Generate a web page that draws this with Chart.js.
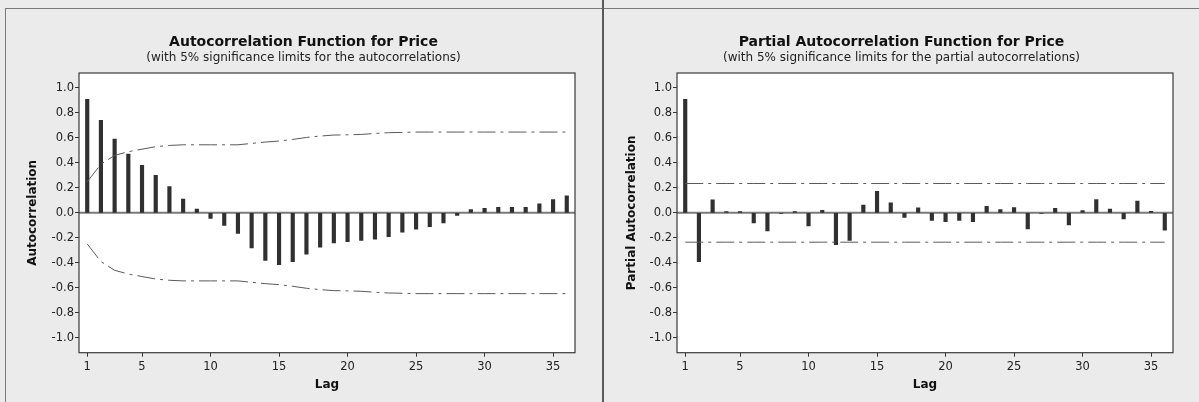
<!DOCTYPE html>
<html><head><meta charset="utf-8">
<script src="https://cdn.jsdelivr.net/npm/chart.js@4.4.1/dist/chart.umd.min.js"></script>
<style>
html,body{margin:0;padding:0;background:#ebebeb;}
body{width:1199px;height:402px;position:relative;overflow:hidden;font-family:'DejaVu Sans',Verdana,sans-serif;}
#c1{position:absolute;left:5px;top:0;}
#c2{position:absolute;left:604px;top:0;}
.bt{position:absolute;left:5px;top:8px;width:1194px;height:1px;background:#7a7a7a;}
.bl{position:absolute;left:5px;top:8px;width:1px;height:394px;background:#7a7a7a;}
.sep{position:absolute;left:602px;top:0;width:2px;height:402px;background:#5a5a5a;}
.ttl{position:absolute;text-align:center;font-weight:bold;font-size:14px;line-height:17px;color:#111;top:33px;white-space:nowrap;}
.sub{position:absolute;text-align:center;font-size:12px;line-height:14px;color:#222;top:49.5px;white-space:nowrap;}
</style></head>
<body>
<div class="bt"></div><div class="bl"></div><div class="sep"></div>
<canvas id="c1" width="597" height="402"></canvas>
<canvas id="c2" width="595" height="402"></canvas>
<div class="ttl" style="left:5px;width:597px;">Autocorrelation Function for Price</div>
<div class="sub" style="left:5px;width:597px;">(with 5% significance limits for the autocorrelations)</div>
<div class="ttl" style="left:604px;width:595px;">Partial Autocorrelation Function for Price</div>
<div class="sub" style="left:604px;width:595px;">(with 5% significance limits for the partial autocorrelations)</div>
<script>
const lags = [1,2,3,4,5,6,7,8,9,10,11,12,13,14,15,16,17,18,19,20,21,22,23,24,25,26,27,28,29,30,31,32,33,34,35,36];
const acfValues = [0.91,0.74,0.59,0.47,0.38,0.30,0.21,0.11,0.03,-0.045,-0.10,-0.165,-0.28,-0.38,-0.415,-0.39,-0.33,-0.275,-0.24,-0.23,-0.22,-0.21,-0.19,-0.155,-0.13,-0.11,-0.08,-0.02,0.027,0.037,0.045,0.045,0.045,0.072,0.107,0.136];
const acfUpper = [0.249,0.39,0.46,0.49,0.51,0.53,0.54,0.545,0.545,0.545,0.545,0.545,0.556,0.567,0.575,0.588,0.604,0.615,0.623,0.625,0.628,0.636,0.642,0.644,0.647,0.647,0.647,0.647,0.647,0.647,0.647,0.647,0.647,0.647,0.647,0.647];
const acfLower = [-0.249,-0.39,-0.46,-0.49,-0.51,-0.53,-0.54,-0.545,-0.545,-0.545,-0.545,-0.545,-0.556,-0.567,-0.575,-0.588,-0.604,-0.615,-0.623,-0.625,-0.628,-0.636,-0.642,-0.644,-0.647,-0.647,-0.647,-0.647,-0.647,-0.647,-0.647,-0.647,-0.647,-0.647,-0.647,-0.647];
const pacfValues = [0.91,-0.39,0.105,0.01,0.01,-0.08,-0.145,-0.003,0.01,-0.105,0.02,-0.255,-0.22,0.062,0.172,0.08,-0.037,0.04,-0.061,-0.07,-0.061,-0.07,0.053,0.027,0.043,-0.128,-0.004,0.037,-0.096,0.019,0.107,0.03,-0.048,0.094,0.013,-0.139];
const pacfUpper = [0.235,0.235,0.235,0.235,0.235,0.235,0.235,0.235,0.235,0.235,0.235,0.235,0.235,0.235,0.235,0.235,0.235,0.235,0.235,0.235,0.235,0.235,0.235,0.235,0.235,0.235,0.235,0.235,0.235,0.235,0.235,0.235,0.235,0.235,0.235,0.235];
const pacfLower = [-0.235,-0.235,-0.235,-0.235,-0.235,-0.235,-0.235,-0.235,-0.235,-0.235,-0.235,-0.235,-0.235,-0.235,-0.235,-0.235,-0.235,-0.235,-0.235,-0.235,-0.235,-0.235,-0.235,-0.235,-0.235,-0.235,-0.235,-0.235,-0.235,-0.235,-0.235,-0.235,-0.235,-0.235,-0.235,-0.235];
const xTickValues = [1,5,10,15,20,25,30,35];
const yTickValues = [-1.0,-0.8,-0.6,-0.4,-0.2,0.0,0.2,0.4,0.6,0.8,1.0];

const FONT = "'DejaVu Sans', Verdana, sans-serif";

const areaPlugin = {
  id: 'area',
  beforeDatasetsDraw(chart) {
    const {ctx, chartArea: a} = chart;
    ctx.save();
    ctx.fillStyle = '#ffffff';
    ctx.fillRect(a.left, a.top, a.right - a.left, a.bottom - a.top);
    const y0 = chart.scales.y.getPixelForValue(0);
    ctx.strokeStyle = '#7a7a7a';
    ctx.lineWidth = 2;
    ctx.beginPath();
    ctx.moveTo(a.left, y0);
    ctx.lineTo(a.right, y0);
    ctx.stroke();
    ctx.restore();
  },
  afterDraw(chart) {
    const {ctx, chartArea: a} = chart;
    ctx.save();
    ctx.strokeStyle = '#3a3a3a';
    ctx.lineWidth = 1.2;
    ctx.strokeRect(a.left, a.top, a.right - a.left, a.bottom - a.top);
    ctx.restore();
  }
};

function pts(xs, ys) { return xs.map((x, i) => ({x: x, y: ys[i]})); }

function makeChart(id, yTitle, vals, upper, lower, yw, padRight) {
  const lineStyle = {type: 'line', borderColor: '#5a5a5a', borderWidth: 1, borderDash: [18, 5, 3, 5], pointRadius: 0, fill: false, tension: 0, order: 1};
  return new Chart(document.getElementById(id), {
    type: 'bar',
    data: {
      datasets: [
        {type: 'bar', data: pts(lags, vals), backgroundColor: '#303030', borderWidth: 0, barThickness: 3.5, order: 2},
        Object.assign({data: pts(lags, upper)}, lineStyle),
        Object.assign({data: pts(lags, lower)}, lineStyle)
      ]
    },
    options: {
      responsive: false,
      animation: false,
      events: [],
      layout: {padding: {left: 0, right: padRight, top: 73, bottom: 0}},
      plugins: {
        legend: {display: false},
        tooltip: {enabled: false},
        title: {display: false},
        subtitle: {display: false}
      },
      scales: {
        x: {
          type: 'linear', min: 0.4, max: 36.6, offset: false,
          afterBuildTicks: s => { s.ticks = xTickValues.map(v => ({value: v})); },
          afterFit: s => { s.height = 49.3; },
          ticks: {autoSkip: false, maxRotation: 0, color: '#222', padding: 3, font: {family: FONT, size: 11.5}, callback: v => String(v)},
          grid: {display: true, drawOnChartArea: false, drawTicks: true, tickLength: 4, color: '#333', offset: false},
          border: {display: false},
          title: {display: true, text: 'Lag', color: '#111', font: {family: FONT, size: 12, weight: 'bold'}, padding: {top: 0, bottom: 9.8}}
        },
        y: {
          type: 'linear', min: -1.12, max: 1.12,
          afterBuildTicks: s => { s.ticks = yTickValues.map(v => ({value: v})); },
          afterFit: s => { s.width = yw; },
          ticks: {autoSkip: false, color: '#222', padding: 1, font: {family: FONT, size: 11.5}, callback: v => v.toFixed(1)},
          grid: {display: true, drawOnChartArea: false, drawTicks: true, tickLength: 4, color: '#333'},
          border: {display: false},
          title: {display: true, text: yTitle, color: '#111', font: {family: FONT, size: 12, weight: 'bold'}, padding: {top: 21, bottom: 0}}
        }
      }
    },
    plugins: [areaPlugin]
  });
}

makeChart('c1', 'Autocorrelation', acfValues, acfUpper, acfLower, 74, 27);
makeChart('c2', 'Partial Autocorrelation', pacfValues, pacfUpper, pacfLower, 73, 26);
</script>
</body></html>
